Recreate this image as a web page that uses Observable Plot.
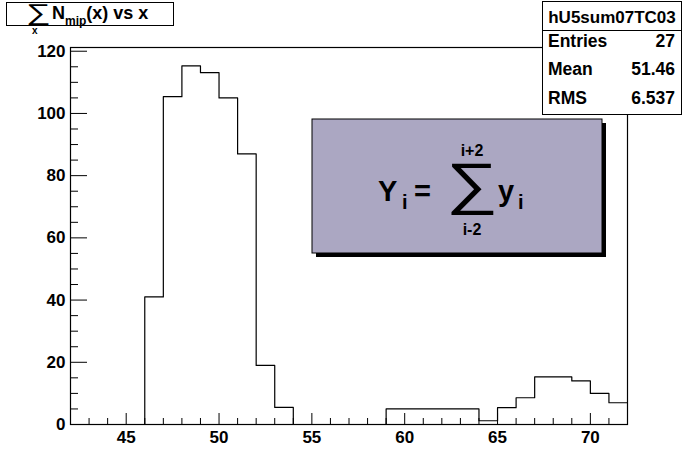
<!DOCTYPE html>
<html>
<head>
<meta charset="utf-8">
<script src="https://cdn.jsdelivr.net/npm/d3@7"></script>
<script src="https://cdn.jsdelivr.net/npm/@observablehq/plot@0.6"></script>
<style>
  html, body { margin: 0; padding: 0; background: #fff; }
  #chart { width: 696px; height: 472px; }
  #chart svg text { font-family: "Liberation Sans", Arial, sans-serif; font-weight: bold; }
  #chart svg text.sym { font-weight: normal; }
</style>
</head>
<body>
<div id="chart"></div>
<script>
// Bin low edges (bin width 1)
const binLow = [42,43,44,45,46,47,48,49,50,51,52,53,54,55,56,57,58,59,60,61,62,63,64,65,66,67,68,69,70,71];
// Bin contents Y_i
const binValue = [0,0,0,0,41,105.4,115.3,113.1,105,87,19,5.5,0,0,0,0,0,5,5,5,5,5,1.2,5.4,8.6,15.3,15.3,14,10,7];
const xUpper = 72;
const xMajorTicks = [45,50,55,60,65,70];
const xMinorTicks = [43,44,46,47,48,49,51,52,53,54,56,57,58,59,61,62,63,64,66,67,68,69,71];
const yMajorTicks = [0,20,40,60,80,100,120];
const yMinorTicks = [5,10,15,25,30,35,45,50,55,65,70,75,85,90,95,105,110,115];
const histName = "hU5sum07TC03";
const statLabels = ["Entries","Mean","RMS"];
const statValues = ["27","51.46","6.537"];

const steps = binLow.map((x, i) => ({x, y: binValue[i]}));
steps.push({x: xUpper, y: binValue[binValue.length - 1]});

const W = 696, H = 472, mL = 70, mR = 69, mT = 47, mB = 48;
const fw = W - mL - mR, fh = H - mT - mB;

const plot = Plot.plot({
  width: W, height: H,
  marginLeft: mL, marginRight: mR, marginTop: mT, marginBottom: mB,
  style: {fontFamily: "Liberation Sans, Arial, sans-serif", fontSize: "17px", color: "#000", background: "#fff"},
  x: {domain: [42, 72]},
  y: {domain: [0, 121.2]},
  marks: [
    Plot.line(steps, {x: "x", y: "y", curve: "step-after", stroke: "#000", strokeWidth: 1.2}),
    Plot.tickX(xMajorTicks, {x: d => d, insetTop: fh - 11, stroke: "#000"}),
    Plot.tickX(xMinorTicks, {x: d => d, insetTop: fh - 6, stroke: "#000"}),
    Plot.tickY(yMajorTicks, {y: d => d, insetRight: fw - 17, stroke: "#000"}),
    Plot.tickY(yMinorTicks, {y: d => d, insetRight: fw - 8, stroke: "#000"}),
    Plot.axisX(xMajorTicks, {tickSize: 0, tickPadding: 6, fontSize: 17, label: null, fill: "#000"}),
    Plot.axisY(yMajorTicks, {tickSize: 0, tickPadding: 5, fontSize: 17, label: null, fill: "#000"}),
    Plot.frame({stroke: "#000", strokeWidth: 1.2})
  ]
});
document.getElementById("chart").appendChild(plot);

const svg = d3.select(plot);
const font = "Liberation Sans, Arial, sans-serif";

// Title box
const tg = svg.append("g").attr("font-family", font).attr("text-anchor", "start").attr("fill", "#000");
tg.append("rect").attr("x", 6.5).attr("y", 2.5).attr("width", 167).attr("height", 23)
  .attr("fill", "#fff").attr("stroke", "#000");
tg.append("text").attr("class", "sym").attr("transform", "translate(26,20) scale(1.5,1)").attr("font-size", 23).text("∑");
tg.append("text").attr("x", 32).attr("y", 34).attr("font-size", 10).text("x");
const tt = tg.append("text").attr("x", 52).attr("y", 19).attr("font-size", 18);
tt.append("tspan").text("N");
tt.append("tspan").attr("font-size", 12).attr("dy", 6).text("mip");
tt.append("tspan").attr("dy", -6).text("(x) vs x");

// Stats box
const sg = svg.append("g").attr("font-family", font).attr("text-anchor", "start").attr("fill", "#000");
sg.append("rect").attr("x", 542.5).attr("y", 1.5).attr("width", 139).attr("height", 113)
  .attr("fill", "#fff").attr("stroke", "#000");
sg.append("line").attr("x1", 542.5).attr("x2", 681.5).attr("y1", 30.5).attr("y2", 30.5).attr("stroke", "#000");
sg.append("text").attr("x", 612).attr("y", 23).attr("text-anchor", "middle").attr("font-size", 17).text(histName);
const rowY = [47, 75, 104];
statLabels.forEach((s, i) => {
  sg.append("text").attr("x", 548).attr("y", rowY[i]).attr("font-size", 17.5).text(s);
  sg.append("text").attr("x", 675).attr("y", rowY[i]).attr("text-anchor", "end").attr("font-size", 17.5).text(statValues[i]);
});

// Formula box
const fg = svg.append("g").attr("font-family", font).attr("text-anchor", "start").attr("fill", "#000");
fg.append("rect").attr("x", 316).attr("y", 123).attr("width", 290).attr("height", 134).attr("fill", "#000");
fg.append("rect").attr("x", 312).attr("y", 119).attr("width", 290).attr("height", 134)
  .attr("fill", "#aba7c2").attr("stroke", "#000");
fg.append("text").attr("x", 378).attr("y", 201).attr("font-size", 29).text("Y");
fg.append("text").attr("x", 402).attr("y", 209).attr("font-size", 20).text("i");
fg.append("text").attr("x", 414).attr("y", 201).attr("font-size", 29).text("=");
fg.append("text").attr("class", "sym").attr("transform", "translate(472,203) scale(1.28,1)").attr("text-anchor", "middle").attr("font-size", 57).text("∑");
fg.append("text").attr("x", 472).attr("y", 156).attr("text-anchor", "middle").attr("font-size", 16).text("i+2");
fg.append("text").attr("x", 472).attr("y", 235).attr("text-anchor", "middle").attr("font-size", 16).text("i-2");
fg.append("text").attr("x", 498).attr("y", 201).attr("font-size", 29).text("y");
fg.append("text").attr("x", 518).attr("y", 209).attr("font-size", 20).text("i");
</script>
</body>
</html>
